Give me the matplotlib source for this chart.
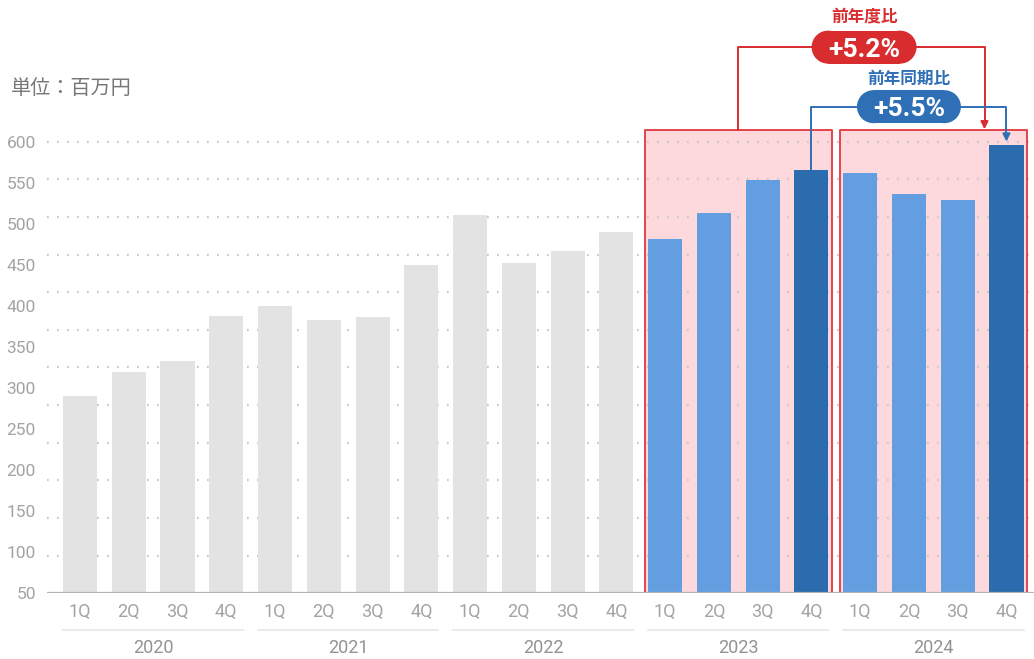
"""Quarterly sales, 2020-2024, with YoY callouts on the latest two years."""

import matplotlib.pyplot as plt
import matplotlib.transforms as mtransforms
import numpy as np
from matplotlib.patches import Circle, Rectangle

# ---- data -------------------------------------------------------------
YEARS = ["2020", "2021", "2022", "2023", "2024"]
QUARTERS = ["1Q", "2Q", "3Q", "4Q"]
SALES_2020 = [290, 320, 333, 388]
SALES_2021 = [400, 383, 387, 450]
SALES_2022 = [511, 452, 467, 490]
SALES_2023 = [482, 513, 553, 565]
SALES_2024 = [562, 536, 529, 596]
Y_TICKS = [50, 100, 150, 200, 250, 300, 350, 400, 450, 500, 550, 600]
UNIT_LABEL = "単位：百万円"
FY_LABEL = "前年度比"
Q_LABEL = "前年同期比"

# ---- style ------------------------------------------------------------
GRAY_BAR = "#e3e3e3"
LIGHT_BLUE = "#629ee0"
DARK_BLUE = "#2b6cae"
PINK = "#fdd8dd"
RED = "#d92c2f"
BOX_EDGE = "#e5434a"
BLUE = "#2f6fb6"
TICK_GRAY = "#a3a3a3"
JP_FONT = ["Noto Sans CJK JP", "DejaVu Sans"]
NUM_FONT = ["Roboto", "DejaVu Sans"]

W_PX, H_PX, DPI = 1034, 659, 100
BAR_W = 0.70
BOX_PAD = 0.42
BOX_TOP = 614
Y_TOP = 772.4


def pct(new, old):
    return (new / old - 1.0) * 100.0


def pill(ax, fig, cx, cy, text, color, w_in=1.05, h_in=0.33):
    """Stadium-shaped label centred on a data point, sized in inches."""
    trans = fig.dpi_scale_trans + mtransforms.ScaledTranslation(cx, cy, ax.transData)
    r = h_in / 2
    parts = [
        Rectangle((-w_in / 2 + r, -r), w_in - 2 * r, h_in),
        Circle((-w_in / 2 + r, 0), r),
        Circle((w_in / 2 - r, 0), r),
    ]
    for p in parts:
        p.set(fc=color, ec="none", transform=trans, zorder=7, clip_on=False)
        ax.add_patch(p)
    ax.text(cx, cy, text, ha="center", va="center_baseline", family=NUM_FONT,
            fontsize=19, fontweight="bold", color="white", zorder=8)


def main() -> None:
    all_sales = [SALES_2020, SALES_2021, SALES_2022, SALES_2023, SALES_2024]
    values = np.concatenate(all_sales)
    x = np.arange(len(values))
    n_q = len(QUARTERS)

    fig = plt.figure(figsize=(W_PX / DPI, H_PX / DPI), dpi=DPI)
    ax = fig.add_axes([47 / W_PX, 65.7 / H_PX, 987 / W_PX, 593.3 / H_PX])
    ax.set_xlim(-0.677, len(values) - 0.435)
    ax.set_ylim(50, Y_TOP)
    for s in ax.spines.values():
        s.set_visible(False)

    # pink highlight boxes behind the last two years
    highlight = [3, 4]
    for yi in highlight:
        x0 = yi * n_q - BOX_PAD
        x1 = yi * n_q + n_q - 1 + BOX_PAD
        ax.fill_between([x0, x1], 50, BOX_TOP, color=PINK, lw=0, zorder=0)
        ax.plot([x0, x0, x1, x1, x0], [50, BOX_TOP, BOX_TOP, 50, 50],
                color=BOX_EDGE, lw=1.4, zorder=4)

    # dotted guide lines (12 even steps up to the top tick)
    for k in range(1, 13):
        ax.axhline(50 + k * (Y_TICKS[-1] - 50) / 12, color="#c8c8c8",
                   lw=1.6, ls=(0, (0.75, 3.75)), zorder=1)
    ax.axhline(50, color="#b3b3b3", lw=1.6, zorder=5)

    colors = []
    for yi in range(len(YEARS)):
        for qi in range(n_q):
            if yi in highlight:
                colors.append(DARK_BLUE if qi == n_q - 1 else LIGHT_BLUE)
            else:
                colors.append(GRAY_BAR)
    ax.bar(x, values, width=BAR_W, color=colors, zorder=3)

    # axes labels
    ax.set_yticks(Y_TICKS)
    ax.set_yticklabels([str(t) for t in Y_TICKS], family=NUM_FONT,
                       fontsize=12.5, color=TICK_GRAY)
    ax.set_xticks(x)
    ax.set_xticklabels(QUARTERS * len(YEARS), family=NUM_FONT,
                       fontsize=13, color=TICK_GRAY)
    ax.tick_params(axis="both", length=0)
    ax.tick_params(axis="y", pad=8)
    ax.tick_params(axis="x", pad=7)
    for lbl in ax.get_yticklabels():
        lbl.set_va("center_baseline")

    ax_h = 593.3
    for yi, year in enumerate(YEARS):
        x0 = yi * n_q - BAR_W / 2
        x1 = yi * n_q + n_q - 1 + BAR_W / 2
        ax.plot([x0, x1], [-37 / ax_h] * 2, color="#e6e6e6", lw=1.2,
                transform=ax.get_xaxis_transform(), clip_on=False)
        ax.text(yi * n_q + (n_q - 1) / 2, -55 / ax_h, year,
                transform=ax.get_xaxis_transform(), ha="center", va="center",
                family=NUM_FONT, fontsize=13, color="#939393")

    fig.text(11 / W_PX, 1 - 88 / H_PX, UNIT_LABEL, family=JP_FONT,
             fontsize=14.5, color="#777777", va="center")

    # year-over-year callout (full fiscal year)
    fy_change = pct(sum(SALES_2024), sum(SALES_2023))
    red_y = 715
    red_x0 = 3 * n_q + (n_q - 1) / 2
    red_x1 = 18.55
    ax.plot([red_x0, red_x0, red_x1, red_x1], [BOX_TOP, red_y, red_y, BOX_TOP + 6],
            color=RED, lw=1.4, zorder=6, clip_on=False)
    ax.annotate("", xy=(red_x1, BOX_TOP + 1), xytext=(red_x1, BOX_TOP + 10),
                arrowprops=dict(arrowstyle="-|>", color=RED, lw=1.4,
                                mutation_scale=11, shrinkA=0, shrinkB=0),
                zorder=6)
    pill(ax, fig, 16.08, red_y, f"+{fy_change:.1f}%", RED)
    ax.text(16.08, 752, FY_LABEL, ha="center", va="center", family=JP_FONT,
            fontsize=12, fontweight="bold", color=RED, zorder=7)

    # same-quarter callout (4Q vs 4Q)
    q_change = pct(SALES_2024[-1], SALES_2023[-1])
    i_prev = 3 * n_q + n_q - 1
    i_last = 4 * n_q + n_q - 1
    blue_y = 642.5
    ax.plot([i_prev, i_prev, i_last, i_last],
            [SALES_2023[-1], blue_y, blue_y, SALES_2024[-1] + 10],
            color=BLUE, lw=1.4, zorder=6, clip_on=False)
    ax.annotate("", xy=(i_last, SALES_2024[-1] + 4),
                xytext=(i_last, SALES_2024[-1] + 14),
                arrowprops=dict(arrowstyle="-|>", color=BLUE, lw=1.4,
                                mutation_scale=11, shrinkA=0, shrinkB=0),
                zorder=6)
    pill(ax, fig, 17.0, blue_y, f"+{q_change:.1f}%", BLUE, w_in=1.04)
    ax.text(17.0, 676, Q_LABEL, ha="center", va="center", family=JP_FONT,
            fontsize=12, fontweight="bold", color=BLUE, zorder=7)

    fig.savefig("out.png", dpi=DPI, facecolor="white")
    plt.close(fig)


if __name__ == "__main__":
    main()
